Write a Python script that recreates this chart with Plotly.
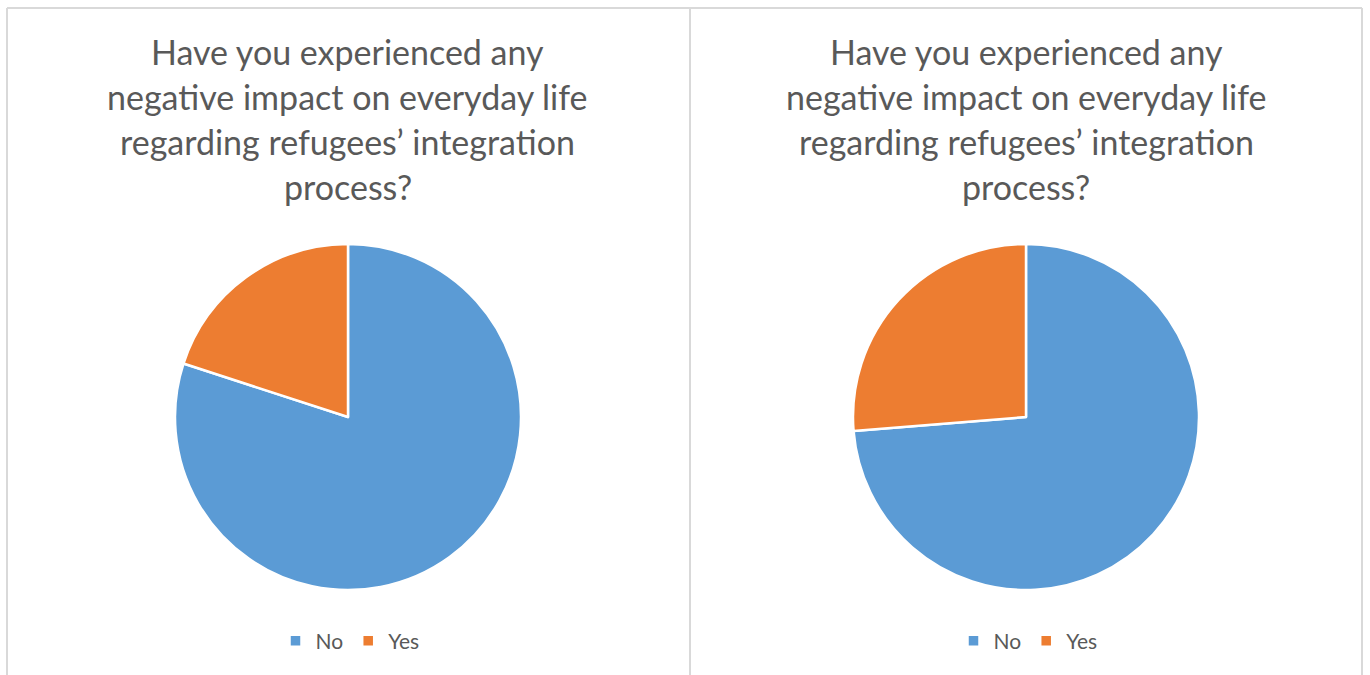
import plotly.graph_objects as go

labels = ["No", "Yes"]
left_values = [80.0, 20.0]
right_values = [73.7, 26.3]
title_lines = [
    "Have you experienced any",
    "negative impact on everyday life",
    "regarding refugees\u2019 integration",
    "process?",
]
colors = ["#5B9BD5", "#ED7D31"]

W, H = 1370, 675
FONT = "Lato"
GRAY = "#595959"

def px_x(x):
    return x / W

def px_y(y):
    return 1 - y / H

fig = go.Figure()

centers = [348, 1026]
radius = 173
cy = 417
for i, (vals, cx) in enumerate(zip([left_values, right_values], centers)):
    fig.add_trace(go.Pie(
        labels=labels,
        values=vals,
        sort=False,
        direction="clockwise",
        rotation=0,
        textinfo="none",
        hoverinfo="label+percent",
        marker=dict(colors=colors, line=dict(color="white", width=2.5)),
        domain=dict(x=[px_x(cx - radius), px_x(cx + radius)],
                    y=[px_y(cy + radius), px_y(cy - radius)]),
        legend="legend" if i == 0 else "legend2",
        legendgroup="left" if i == 0 else "right",
        showlegend=True,
    ))

annotations = []
line_centers = [52, 97, 142, 187]
for cx in centers:
    for txt, ly in zip(title_lines, line_centers):
        annotations.append(dict(
            x=px_x(cx), y=px_y(ly), xref="paper", yref="paper",
            text=txt, showarrow=False, xanchor="center", yanchor="middle",
            font=dict(family=FONT, size=34, color=GRAY),
        ))

shapes = []
line_style = dict(color="#D9D9D9", width=2)
shapes.append(dict(type="line", xref="paper", yref="paper",
                   x0=px_x(7), x1=px_x(1362), y0=px_y(8), y1=px_y(8), line=line_style))
for x in [7, 690, 1362]:
    shapes.append(dict(type="line", xref="paper", yref="paper",
                       x0=px_x(x), x1=px_x(x), y0=px_y(8), y1=px_y(680), line=line_style))

legend_common = dict(orientation="h", xanchor="center", yanchor="middle",
                     traceorder="normal", tracegroupgap=0,
                     font=dict(family=FONT, size=21, color=GRAY),
                     bgcolor="rgba(0,0,0,0)", itemclick=False, itemdoubleclick=False)

fig.update_layout(
    width=W, height=H,
    margin=dict(l=0, r=0, t=0, b=0),
    paper_bgcolor="white",
    plot_bgcolor="white",
    annotations=annotations,
    shapes=shapes,
    legend=dict(x=px_x(350), y=px_y(641), **legend_common),
    legend2=dict(x=px_x(1028), y=px_y(641), **legend_common),
)

fig.write_html("out.html",
               config={"displayModeBar": False},
               post_script="document.body.style.margin='0px';document.body.style.overflow='hidden';")
